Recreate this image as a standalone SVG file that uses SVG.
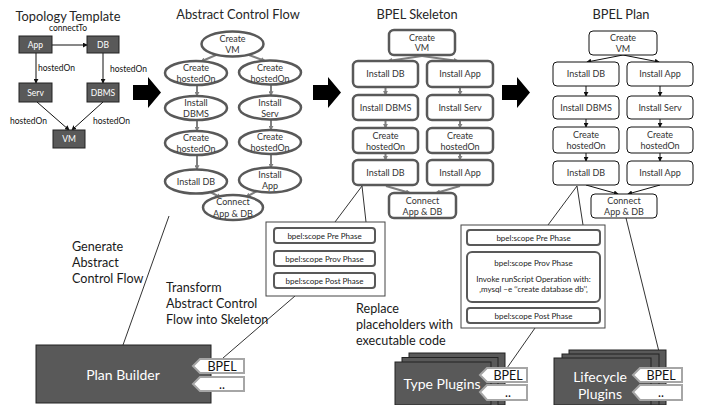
<svg xmlns="http://www.w3.org/2000/svg" width="720" height="405" viewBox="0 0 720 405">
<style>
text{font-family:Lato,"Liberation Sans",sans-serif}
.title{font-size:12.8px;fill:#262626;text-anchor:middle}
.lbl{font-size:12.6px;fill:#1a1a1a}
.tn{font-size:8.5px;fill:#fff;text-anchor:middle}
.te{font-size:8.5px;fill:#111}
.n{font-size:9px;fill:#333;text-anchor:middle}
.sc{font-size:8px;fill:#222;text-anchor:middle}
.big{font-size:14px;fill:#fff;text-anchor:middle}
.tab{font-size:12.5px;fill:#111;text-anchor:middle}
.dark{fill:#595959;stroke:#222;stroke-width:1}
.ell{fill:#fff;stroke:#595959;stroke-width:2.5}
.sk{fill:#fff;stroke:#595959;stroke-width:2.5}
.pl{fill:#fff;stroke:#111;stroke-width:1}
.scb{fill:#fff;stroke:#595959;stroke-width:2}
.outer{fill:#fff;stroke:#444;stroke-width:1}
.tabs{fill:#fff;stroke:#a6a6a6;stroke-width:2}
.cg{fill:none;stroke:#7f7f7f;stroke-width:2;marker-end:url(#ag)}
.cb{fill:none;stroke:#111;stroke-width:1;marker-end:url(#ab)}
.ln{fill:none;stroke:#333;stroke-width:1}
.blk{fill:#000}
</style>
<defs>
<marker id="ag" viewBox="0 0 6 6" refX="5" refY="3" markerWidth="5" markerHeight="5" markerUnits="userSpaceOnUse" orient="auto"><path d="M0,0 L6,3 L0,6z" fill="#7f7f7f"/></marker>
<marker id="ab" viewBox="0 0 6 6" refX="5" refY="3" markerWidth="5" markerHeight="5" markerUnits="userSpaceOnUse" orient="auto"><path d="M0,0 L6,3 L0,6z" fill="#111"/></marker>
</defs>
<rect width="720" height="405" fill="#fff"/>

<!-- titles -->
<text class="title" x="68" y="21">Topology Template</text>
<text class="title" x="238" y="19">Abstract Control Flow</text>
<text class="title" x="417" y="19">BPEL Skeleton</text>
<text class="title" x="621" y="19">BPEL Plan</text>

<!-- big arrows -->
<polygon class="blk" points="133,85 148,85 148,77 161,92.5 148,108 148,100 133,100"/>
<polygon class="blk" points="313,85 328,85 328,77 341,92.5 328,108 328,100 313,100"/>
<polygon class="blk" points="502,85 517,85 517,77 530,92.5 517,108 517,100 502,100"/>

<!-- connectors -->
<g id="connectors">
  <!-- topology -->
  <line class="cb" x1="52" y1="45" x2="87" y2="45"/>
  <line class="cb" x1="36" y1="53" x2="36" y2="83"/>
  <line class="cb" x1="103" y1="53" x2="103" y2="83"/>
  <line class="cb" x1="37" y1="102" x2="69" y2="130"/>
  <line class="cb" x1="103" y1="102" x2="72" y2="130"/>
  <!-- abstract control flow -->
  <line class="cg" x1="216" y1="55" x2="201" y2="61.5"/>
  <line class="cg" x1="249" y1="55" x2="265" y2="61"/>
  <line class="cg" x1="197" y1="85" x2="197" y2="96"/>
  <line class="cg" x1="197" y1="120" x2="197" y2="131"/>
  <line class="cg" x1="197" y1="155" x2="197" y2="169.5"/>
  <line class="cg" x1="271" y1="84.5" x2="271" y2="95.5"/>
  <line class="cg" x1="271" y1="119.5" x2="271" y2="130"/>
  <line class="cg" x1="271" y1="154" x2="271" y2="168"/>
  <line class="cg" x1="210" y1="192" x2="221" y2="197.5"/>
  <line class="cg" x1="257" y1="191" x2="246" y2="197"/>
  <!-- skeleton -->
  <line class="cg" x1="422" y1="56" x2="388" y2="61"/>
  <line class="cg" x1="422" y1="56" x2="458" y2="61"/>
  <line class="cg" x1="385.5" y1="88" x2="385.5" y2="95"/>
  <line class="cg" x1="385.5" y1="121" x2="385.5" y2="128"/>
  <line class="cg" x1="385.5" y1="154" x2="385.5" y2="160"/>
  <line class="cg" x1="460" y1="88" x2="460" y2="95"/>
  <line class="cg" x1="460" y1="121" x2="460" y2="128"/>
  <line class="cg" x1="460" y1="154" x2="460" y2="160"/>
  <line class="cg" x1="386" y1="186" x2="410" y2="193"/>
  <line class="cg" x1="460" y1="186" x2="436" y2="193"/>
  <!-- plan -->
  <line class="cb" x1="623" y1="55" x2="587" y2="62"/>
  <line class="cb" x1="623" y1="55" x2="659" y2="62"/>
  <line class="cb" x1="586" y1="86" x2="586" y2="96"/>
  <line class="cb" x1="586" y1="119" x2="586" y2="127"/>
  <line class="cb" x1="586" y1="153" x2="586" y2="161"/>
  <line class="cb" x1="660" y1="86" x2="660" y2="96"/>
  <line class="cb" x1="660" y1="119" x2="660" y2="127"/>
  <line class="cb" x1="660" y1="153" x2="660" y2="161"/>
  <line class="cb" x1="586" y1="185" x2="618" y2="194"/>
  <line class="cb" x1="660" y1="185" x2="628" y2="194"/>
  <!-- callout / reference lines -->
  <polyline class="ln" points="335,222 362,186 366,222"/>
  <polyline class="ln" points="548,225 577,186 583,225"/>
  <line class="ln" x1="169" y1="216" x2="123" y2="345"/>
  <line class="ln" x1="295" y1="296" x2="223" y2="358"/>
  <line class="ln" x1="535" y1="328" x2="507" y2="368"/>
  <line class="ln" x1="626" y1="218" x2="663" y2="368"/>
</g>

<!-- topology labels -->
<text class="te" x="68" y="31" text-anchor="middle">connectTo</text>
<text class="te" x="38" y="71">hostedOn</text>
<text class="te" x="110" y="72">hostedOn</text>
<text class="te" x="10" y="124">hostedOn</text>
<text class="te" x="93" y="124">hostedOn</text>

<!-- topology nodes -->
<g id="t-app"><rect class="dark" x="19" y="36" width="33" height="17"/><text class="tn" x="35.5" y="47.5">App</text></g>
<g id="t-db"><rect class="dark" x="87" y="36" width="32" height="17"/><text class="tn" x="103" y="47.5">DB</text></g>
<g id="t-serv"><rect class="dark" x="19" y="83" width="33" height="19"/><text class="tn" x="35.5" y="95.5">Serv</text></g>
<g id="t-dbms"><rect class="dark" x="87" y="83" width="32" height="19"/><text class="tn" x="103" y="95.5">DBMS</text></g>
<g id="t-vm"><rect class="dark" x="53" y="130" width="32" height="18"/><text class="tn" x="69" y="142">VM</text></g>

<!-- abstract control flow -->
<g id="a-vm"><ellipse class="ell" cx="232.5" cy="44" rx="31" ry="12.5"/><text class="n" x="232.5" y="41.5">Create</text><text class="n" x="232.5" y="53">VM</text></g>
<g id="a-ho1"><ellipse class="ell" cx="196" cy="73" rx="31" ry="12"/><text class="n" x="196" y="71">Create</text><text class="n" x="196" y="82">hostedOn</text></g>
<g id="a-ho2"><ellipse class="ell" cx="270" cy="72.5" rx="31" ry="12"/><text class="n" x="270" y="70.5">Create</text><text class="n" x="270" y="81.5">hostedOn</text></g>
<g id="a-dbms"><ellipse class="ell" cx="196" cy="108" rx="31" ry="12"/><text class="n" x="196" y="106">Install</text><text class="n" x="196" y="117">DBMS</text></g>
<g id="a-serv"><ellipse class="ell" cx="270" cy="107.5" rx="31" ry="12"/><text class="n" x="270" y="105.5">Install</text><text class="n" x="270" y="116.5">Serv</text></g>
<g id="a-ho3"><ellipse class="ell" cx="196" cy="143" rx="31" ry="12"/><text class="n" x="196" y="141">Create</text><text class="n" x="196" y="152">hostedOn</text></g>
<g id="a-ho4"><ellipse class="ell" cx="270" cy="142" rx="31" ry="12"/><text class="n" x="270" y="140">Create</text><text class="n" x="270" y="151">hostedOn</text></g>
<g id="a-db"><ellipse class="ell" cx="196" cy="181.5" rx="31" ry="12"/><text class="n" x="196" y="185">Install DB</text></g>
<g id="a-app"><ellipse class="ell" cx="270" cy="180" rx="31" ry="12.5"/><text class="n" x="270" y="177.5">Install</text><text class="n" x="270" y="189">App</text></g>
<g id="a-conn"><ellipse class="ell" cx="233" cy="207.5" rx="30" ry="12.5"/><text class="n" x="233" y="205">Connect</text><text class="n" x="233" y="216.5">App &amp; DB</text></g>

<!-- skeleton -->
<g id="s-vm"><rect class="sk" x="389" y="30" width="66" height="25" rx="5"/><text class="n" x="422" y="40.5">Create</text><text class="n" x="422" y="51">VM</text></g>
<g id="s-db1"><rect class="sk" x="353" y="61" width="65" height="26" rx="5"/><text class="n" x="385.5" y="77">Install DB</text></g>
<g id="s-app1"><rect class="sk" x="427" y="61" width="66" height="26" rx="5"/><text class="n" x="460" y="77">Install App</text></g>
<g id="s-dbms"><rect class="sk" x="353" y="95" width="65" height="25" rx="5"/><text class="n" x="385.5" y="110.5">Install DBMS</text></g>
<g id="s-serv"><rect class="sk" x="427" y="95" width="66" height="25" rx="5"/><text class="n" x="460" y="110.5">Install Serv</text></g>
<g id="s-ho1"><rect class="sk" x="353" y="128" width="65" height="25" rx="5"/><text class="n" x="385.5" y="138.5">Create</text><text class="n" x="385.5" y="149.5">hostedOn</text></g>
<g id="s-ho2"><rect class="sk" x="427" y="128" width="66" height="25" rx="5"/><text class="n" x="460" y="138.5">Create</text><text class="n" x="460" y="149.5">hostedOn</text></g>
<g id="s-db2"><rect class="sk" x="353" y="160" width="65" height="25" rx="5"/><text class="n" x="385.5" y="175.5">Install DB</text></g>
<g id="s-app2"><rect class="sk" x="427" y="160" width="66" height="25" rx="5"/><text class="n" x="460" y="175.5">Install App</text></g>
<g id="s-conn"><rect class="sk" x="389" y="193" width="67" height="25" rx="5"/><text class="n" x="422.5" y="203.5">Connect</text><text class="n" x="422.5" y="214.5">App &amp; DB</text></g>

<!-- plan -->
<g id="p-vm"><rect class="pl" x="589" y="31" width="68" height="24" rx="4"/><text class="n" x="623" y="41">Create</text><text class="n" x="623" y="51.5">VM</text></g>
<g id="p-db1"><rect class="pl" x="553" y="62" width="66" height="24" rx="4"/><text class="n" x="586" y="77">Install DB</text></g>
<g id="p-app1"><rect class="pl" x="627" y="62" width="66" height="24" rx="4"/><text class="n" x="660" y="77">Install App</text></g>
<g id="p-dbms"><rect class="pl" x="553" y="96" width="66" height="23" rx="4"/><text class="n" x="586" y="110.5">Install DBMS</text></g>
<g id="p-serv"><rect class="pl" x="627" y="96" width="66" height="23" rx="4"/><text class="n" x="660" y="110.5">Install Serv</text></g>
<g id="p-ho1"><rect class="pl" x="553" y="127" width="66" height="26" rx="4"/><text class="n" x="586" y="138">Create</text><text class="n" x="586" y="149">hostedOn</text></g>
<g id="p-ho2"><rect class="pl" x="627" y="127" width="66" height="26" rx="4"/><text class="n" x="660" y="138">Create</text><text class="n" x="660" y="149">hostedOn</text></g>
<g id="p-db2"><rect class="pl" x="553" y="161" width="66" height="24" rx="4"/><text class="n" x="586" y="176">Install DB</text></g>
<g id="p-app2"><rect class="pl" x="627" y="161" width="66" height="24" rx="4"/><text class="n" x="660" y="176">Install App</text></g>
<g id="p-conn"><rect class="pl" x="591" y="194" width="66" height="24" rx="4"/><text class="n" x="624" y="204">Connect</text><text class="n" x="624" y="215">App &amp; DB</text></g>

<!-- skeleton scope detail -->
<g id="scope-skeleton">
  <rect class="outer" x="266" y="222" width="119" height="74"/>
  <rect class="scb" x="274" y="228" width="101" height="15" rx="3"/><text class="sc" x="324.5" y="238.5">bpel:scope Pre Phase</text>
  <rect class="scb" x="274" y="251" width="101" height="15" rx="3"/><text class="sc" x="324.5" y="261.5">bpel:scope Prov Phase</text>
  <rect class="scb" x="274" y="273" width="101" height="15" rx="3"/><text class="sc" x="324.5" y="283.5">bpel:scope Post Phase</text>
</g>

<!-- plan scope detail -->
<g id="scope-plan">
  <rect class="outer" x="461" y="225" width="144" height="103"/>
  <rect class="scb" x="467" y="230" width="133" height="15" rx="3"/><text class="sc" x="533.5" y="240.5">bpel:scope Pre Phase</text>
  <rect class="scb" x="467" y="252" width="133" height="50" rx="5"/>
  <text class="sc" x="533.5" y="266">bpel:scope Prov Phase</text>
  <text class="sc" x="533.5" y="282">Invoke runScript Operation with:</text>
  <text class="sc" x="533.5" y="292">‚mysql –e ‘‘create database db’’‚</text>
  <rect class="scb" x="467" y="308" width="133" height="15" rx="3"/><text class="sc" x="533.5" y="318.5">bpel:scope Post Phase</text>
</g>

<!-- labels -->
<text class="lbl" x="72" y="251">Generate</text>
<text class="lbl" x="72" y="267">Abstract</text>
<text class="lbl" x="72" y="283">Control Flow</text>
<text class="lbl" x="166" y="292">Transform</text>
<text class="lbl" x="166" y="308">Abstract Control</text>
<text class="lbl" x="166" y="324">Flow into Skeleton</text>
<text class="lbl" x="356" y="313">Replace</text>
<text class="lbl" x="356" y="329">placeholders with</text>
<text class="lbl" x="356" y="345">executable code</text>

<!-- plan builder -->
<g id="plan-builder">
  <rect class="dark" x="36" y="345" width="175" height="58"/>
  <text class="big" x="123" y="380">Plan Builder</text>
  <polygon class="tabs" points="193,366 200,359 244,359 244,373 200,373"/>
  <text class="tab" x="222" y="371">BPEL</text>
  <polygon class="tabs" points="193,384 200,377 244,377 244,391 200,391"/>
  <text class="tab" x="222" y="389">..</text>
</g>

<!-- type plugins -->
<g id="type-plugins">
  <rect class="dark" x="409" y="353" width="96" height="52"/>
  <rect class="dark" x="402" y="357.5" width="96" height="48"/>
  <rect class="dark" x="395" y="362" width="96" height="43"/>
  <text class="big" x="442" y="389">Type Plugins</text>
  <polygon class="tabs" points="480,375 487,368 527,368 527,382 487,382"/>
  <text class="tab" x="508" y="380">BPEL</text>
  <polygon class="tabs" points="480,392 487,385 527,385 527,400 487,400"/>
  <text class="tab" x="508" y="397">..</text>
</g>

<!-- lifecycle plugins -->
<g id="lifecycle-plugins">
  <rect class="dark" x="569" y="350" width="97" height="55"/>
  <rect class="dark" x="562" y="354" width="97" height="51"/>
  <rect class="dark" x="554" y="358" width="97" height="47"/>
  <text class="big" x="600" y="382">Lifecycle</text>
  <text class="big" x="600" y="399">Plugins</text>
  <polygon class="tabs" points="633,375 640,368 682,368 682,382 640,382"/>
  <text class="tab" x="661" y="380">BPEL</text>
  <polygon class="tabs" points="633,392 640,385 682,385 682,400 640,400"/>
  <text class="tab" x="661" y="397">..</text>
</g>
</svg>
